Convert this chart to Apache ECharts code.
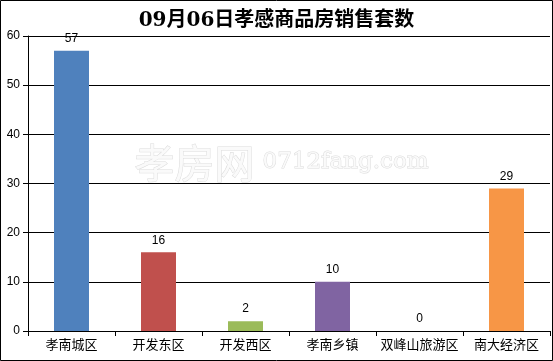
<!DOCTYPE html>
<html><head><meta charset="utf-8">
<script src="https://cdn.jsdelivr.net/npm/echarts@6/dist/echarts.min.js"></script>
<style>html,body{margin:0;padding:0;background:#fff}#c{width:553px;height:361px}</style>
</head><body><div id="c"></div>
<script>
const title = '09月06日孝感商品房销售套数';
const categories = ['孝南城区','开发东区','开发西区','孝南乡镇','双峰山旅游区','南大经济区'];
const values = [57, 16, 2, 10, 0, 29];
const colors = ['#4f81bd','#c0504d','#9bbb59','#8064a2','#4bacc6','#f79646'];
const yTicks = [0,10,20,30,40,50,60];

const chart = echarts.init(document.getElementById('c'));
chart.setOption({
  animation:false,
  backgroundColor:'#fff',
  title:{text:title,left:'center',top:6,textStyle:{fontFamily:'"DejaVu Serif","Noto Sans CJK SC",serif',fontSize:20,fontWeight:'bold',color:'#000'}},
  graphic:[
    {type:'rect',shape:{x:0.5,y:0.5,width:552,height:360},style:{fill:'none',stroke:'#000',lineWidth:1},z:100},
    {type:'text',left:134,top:142,style:{text:'孝房网',font:'40px "Noto Sans CJK SC"',fill:'#fafafa',stroke:'#dcdcdc',lineWidth:1},z:0},
    {type:'text',left:262,top:150,style:{text:'0712fang.com',font:'23px "DejaVu Serif"',fill:'#fafafa',stroke:'#dcdcdc',lineWidth:1},z:0}
  ],
  grid:{left:28,right:3,top:36,bottom:30,containLabel:false},
  xAxis:{type:'category',data:categories,
    axisLine:{lineStyle:{color:'#000',width:1}},
    axisTick:{show:true,length:5,lineStyle:{color:'#000'}},
    axisLabel:{color:'#000',fontSize:13,fontFamily:'"Noto Sans CJK SC"',margin:7,interval:0}},
  yAxis:{type:'value',min:0,max:60,interval:10,
    axisLine:{show:true,lineStyle:{color:'#000'}},
    axisTick:{show:true,length:5,lineStyle:{color:'#000'}},
    splitLine:{show:true,lineStyle:{color:'#000',width:1}},
    axisLabel:{color:'#000',fontSize:12,fontFamily:'"Liberation Sans",Arial',margin:8}},
  series:[{type:'bar',data:values.map((v,i)=>({value:v,itemStyle:{color:colors[i]}})),
    barWidth:35,
    label:{show:true,position:'top',color:'#000',fontSize:12,fontFamily:'"Liberation Sans",Arial',distance:6}}]
});
</script></body></html>
